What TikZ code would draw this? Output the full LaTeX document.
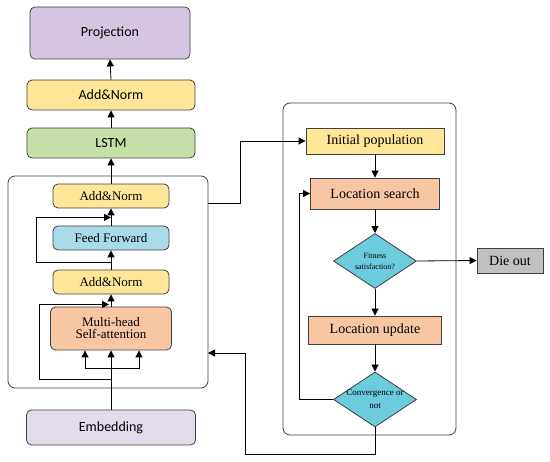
\documentclass[tikz,border=0pt]{standalone}
\usepackage{fontspec}
\setmainfont{Liberation Serif}
\newfontfamily\carlito{Carlito}
\usepackage{tikz}
\usetikzlibrary{arrows.meta,positioning,shapes.geometric}
\definecolor{projc}{HTML}{D5C5E0}
\definecolor{normc}{HTML}{FFE699}
\definecolor{lstmc}{HTML}{C5DFA6}
\definecolor{ffc}{HTML}{A9DCE8}
\definecolor{attc}{HTML}{F9C6A3}
\definecolor{embc}{HTML}{E3DBEC}
\definecolor{diac}{HTML}{6CCBDD}
\definecolor{diec}{HTML}{C0C0C0}
\newcommand{\cl}[1]{\makebox[0pt]{#1}}

\begin{document}
\begin{tikzpicture}[x=1pt, y=-1pt, line width=0.8pt,
  arr/.style={-{Triangle[length=7pt,width=7pt]}},
  blk/.style={draw=black!75, rounded corners=5pt, inner sep=0pt, align=center, font=\carlito\fontsize{14}{16}\selectfont},
  sub/.style={draw=black!75, rounded corners=5pt, inner sep=0pt, align=center, font=\fontsize{13}{14}\selectfont},
  stp/.style={draw=black!75, inner sep=0pt, align=center, font=\fontsize{14}{16}\selectfont},
  dia/.style={diamond, draw=black!75, fill=diac, inner sep=0pt, align=center, minimum width=83pt, minimum height=55pt},
  frame/.style={draw=black!75, rounded corners=7pt}]
\useasboundingbox (0,0) rectangle (550,462);
% transformer column
\node[blk, fill=projc, minimum width=160pt, minimum height=52pt] (proj) at (110,33) {Projection};
\node[blk, fill=normc, minimum width=168pt, minimum height=30pt] (an3) at (111,95) {Add\&Norm};
\node[blk, fill=lstmc, minimum width=168pt, minimum height=30pt] (lstm) at (111,143) {LSTM};
\draw[frame] (8,176) rectangle (208,388);
\coordinate (encout) at (208,203);
\coordinate (encin) at (208,353);
\node[sub, fill=normc, minimum width=116pt, minimum height=24pt] (an2) at (111,196) {Add\&Norm};
\node[sub, fill=ffc, minimum width=116pt, minimum height=24pt] (ff) at (111,238) {Feed Forward};
\node[sub, fill=normc, minimum width=116pt, minimum height=24pt] (an1) at (111,282) {Add\&Norm};
\node[sub, fill=attc, minimum width=121pt, minimum height=43pt] (mha) at (111,328.5) {Multi-head\\[-2pt]Self-attention};
\node[blk, fill=embc, minimum width=169pt, minimum height=35pt] (emb) at (111,427.5) {Embedding};
\coordinate (br) at (111,368);
\coordinate (r1) at (111,379);
\coordinate (r2) at (111,262);
\draw[arr] (emb.north) -- (mha.south);
\draw[arr] (br) -| ([xshift=-26pt]mha.south);
\draw[arr] (br) -| ([xshift=28pt]mha.south);
\draw[arr] (r1) -- ++(-72,0) |- ([xshift=-2pt,yshift=-10pt]an1.south);
\draw[arr] (mha.north) -- (an1.south);
\draw[arr] (an1.north) -- (ff.south);
\draw[arr] (r2) -- ++(-75,0) |- ([yshift=-9pt]an2.south);
\draw[arr] (ff.north) -- (an2.south);
\draw[arr] (an2.north) -- (lstm.south);
\draw[arr] (lstm.north) -- (an3.south);
\draw[arr] (an3.north) -- (proj.south);
% optimisation loop
\draw[frame] (283,103) rectangle (456,435);
\node[stp, fill=normc, minimum width=138pt, minimum height=26pt] (init) at (375,141) {Initial population};
\node[stp, fill=attc, minimum width=129pt, minimum height=31pt] (search) at (375,193.5) {Location search};
\node[dia, font=\fontsize{8}{11}\selectfont] (fit) at (375,261) {\cl{Fitness}\\\cl{satisfaction?}};
\node[stp, fill=diec, minimum width=66pt, minimum height=25pt] (die) at (510,260.5) {Die out};
\node[stp, fill=attc, minimum width=133pt, minimum height=28pt] (update) at (375,330) {Location update};
\node[dia, font=\fontsize{9}{13}\selectfont] (conv) at (375,399.5) {\cl{Convergence or}\\\cl{not}};
\draw[arr] (encout) -- ++(32,0) |- (init.west);
\draw[arr] (init.south) -- (search.north);
\draw[arr] (search.south) -- (fit.north);
\draw[arr] (fit.east) -- (die.west);
\draw[arr] (fit.south) -- (update.north);
\draw[arr] (update.south) -- (conv.north);
\draw[arr] (conv.west) -- ++(-34,0) |- (search.west);
\draw[arr] (conv.south) -- ++(0,27) -| (245,353) -- (encin);
\end{tikzpicture}
\end{document}
